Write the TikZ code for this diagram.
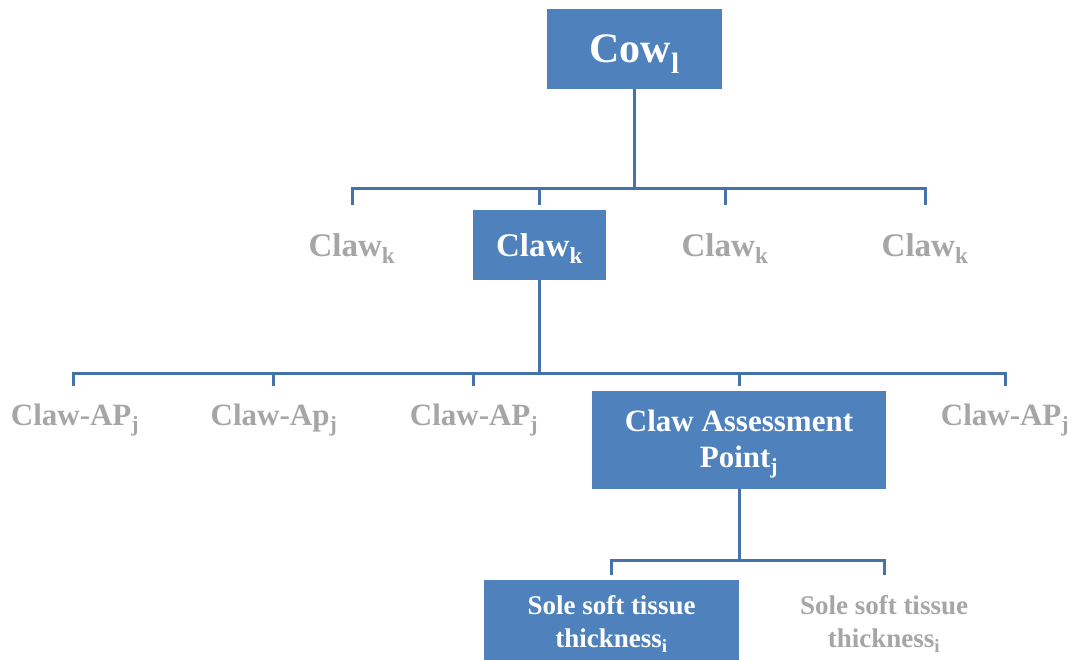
\documentclass[tikz,border=0pt]{standalone}
\usepackage{fontspec}
\setmainfont{Liberation Serif}
\definecolor{boxblue}{RGB}{79,129,189}
\definecolor{lineblue}{RGB}{70,114,170}
\definecolor{greytext}{RGB}{166,166,166}
\tikzset{
  bluebox/.style={draw=none, fill=boxblue, text=white, font=\bfseries, inner sep=0pt, align=center},
  greybox/.style={draw=none, text=greytext, font=\bfseries, inner sep=0pt, align=center},
  conn/.style={draw=lineblue, line width=3pt},
  drop/.style={conn, shorten >=5pt},
  clawsize/.style={minimum width=133pt, minimum height=70pt, font=\bfseries\fs{33}{37}, text height=26pt, text depth=4pt},
  apsize/.style={minimum width=130pt, minimum height=54pt, font=\bfseries\fs{31}{36}, text height=22pt, text depth=8pt},
  solesize/.style={minimum width=255pt, minimum height=80pt, font=\bfseries\fs{27}{33}}
}
\newcommand{\fs}[2]{\fontsize{#1}{#2}\selectfont}
\newcommand{\up}[1]{\rule{0pt}{#1}}
\newcommand{\dn}[1]{\rule[-#1]{0pt}{#1}}
\begin{document}
\begin{tikzpicture}[x=1pt,y=-1pt]
\useasboundingbox (0,0) rectangle (1075,659);
% level 0
\node[bluebox, minimum width=175pt, minimum height=80pt, font=\bfseries\fs{42}{46}, text height=30pt, text depth=4pt] (cow) at (634.5,49) {Cow\textsubscript{l}};
% level 1
\node[greybox, clawsize] (c1) at (352,245) {Claw\textsubscript{k}};
\node[bluebox, clawsize] (c2) at (539.5,245) {Claw\textsubscript{k}};
\node[greybox, clawsize] (c3) at (725,245) {Claw\textsubscript{k}};
\node[greybox, clawsize] (c4) at (925,245) {Claw\textsubscript{k}};
% level 2
\node[greybox, apsize] (a1) at (75,418) {Claw-AP\textsubscript{j}};
\node[greybox, apsize] (a2) at (274,418) {Claw-Ap\textsubscript{j}};
\node[greybox, apsize] (a3) at (474,418) {Claw-AP\textsubscript{j}};
\node[bluebox, minimum width=294pt, minimum height=98pt, font=\bfseries\fs{31}{36}] (a4) at (739,440) {\up{30pt}Claw Assessment\\Point\textsubscript{j}\dn{6pt}};
\node[greybox, apsize] (a5) at (1005,418) {Claw-AP\textsubscript{j}};
% level 3
\node[bluebox, solesize] (s1) at (611.5,620) {\up{27pt}Sole soft tissue\\thickness\textsubscript{i}\dn{4pt}};
\node[greybox, solesize] (s2) at (884,620) {\up{27pt}Sole soft tissue\\thickness\textsubscript{i}\dn{4pt}};
% connectors
\coordinate (b1) at (634.5,188);
\coordinate (b2) at (539.5,373);
\coordinate (b3) at (739,560);
\draw[conn] (cow.south) -- (b1);
\foreach \n in {c1,c2,c3,c4} \draw[drop] (b1) -| (\n.north);
\draw[conn] (c2.south) -- (b2);
\draw[drop] (b2) -| (a1.north -| 73,0);
\draw[drop] (b2) -| (a2.north -| 273,0);
\draw[drop] (b2) -| (a3.north -| 473,0);
\draw[drop] (b2) -| (a4.north);
\draw[drop] (b2) -| (a5.north);
\draw[conn] (a4.south) -- (b3);
\draw[drop] (b3) -| (s1.north);
\draw[drop] (b3) -| (s2.north);
\end{tikzpicture}
\end{document}
